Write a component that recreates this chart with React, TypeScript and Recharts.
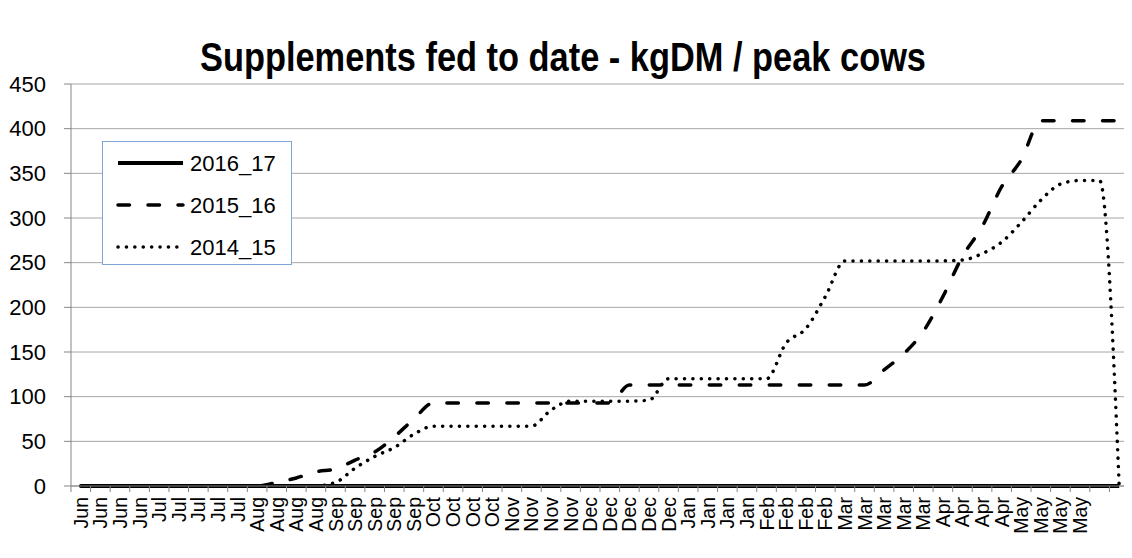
import { CartesianGrid, Legend, Line, LineChart, XAxis, YAxis } from "recharts";

const weekLabels = [
  "Jun", "Jun", "Jun", "Jun",
  "Jul", "Jul", "Jul", "Jul", "Jul",
  "Aug", "Aug", "Aug", "Aug",
  "Sep", "Sep", "Sep", "Sep", "Sep",
  "Oct", "Oct", "Oct", "Oct",
  "Nov", "Nov", "Nov", "Nov",
  "Dec", "Dec", "Dec", "Dec", "Dec",
  "Jan", "Jan", "Jan", "Jan",
  "Feb", "Feb", "Feb", "Feb",
  "Mar", "Mar", "Mar", "Mar", "Mar",
  "Apr", "Apr", "Apr", "Apr",
  "May", "May", "May", "May",
  "", "",
];

const season2016_17 = [
  0, 0, 0, 0, 0, 0, 0, 0, 0, 0, 0, 0, 0, 0, 0, 0, 0, 0,
  0, 0, 0, 0, 0, 0, 0, 0, 0, 0, 0, 0, 0, 0, 0, 0, 0, 0,
  0, 0, 0, 0, 0, 0, 0, 0, 0, 0, 0, 0, 0, 0, 0, 0, 0, 0,
];

const season2015_16 = [
  0, 0, 0, 0, 0, 0, 0, 0, 0, 0,
  4, 9, 16, 19, 29, 38, 55, 75, 93,
  93, 93, 93, 93, 93, 93, 93, 93, 93,
  113, 113, 113, 113, 113, 113, 113, 113, 113, 113, 113, 113, 113,
  130, 148, 173, 212, 257, 290, 335, 365,
  409, 409, 409, 409, 409,
];

const season2014_15 = [
  0, 0, 0, 0, 0, 0, 0, 0, 0, 0, 0, 0, 0,
  4, 20, 33, 43, 58, 67,
  67, 67, 67, 67, 67,
  85, 95, 95, 95, 95, 96, 120,
  120, 120, 120, 120, 120,
  160, 176, 212, 252,
  252, 252, 252, 252, 252, 253,
  260, 273, 295, 320, 338, 342, 342, 0,
];

const yTicks = [0, 50, 100, 150, 200, 250, 300, 350, 400, 450];

const rows = weekLabels.map((label, i) => ({
  label,
  s1617: season2016_17[i],
  s1516: season2015_16[i],
  s1415: season2014_15[i],
}));

const FONT = '"Liberation Sans", Arial, sans-serif';
const W = 1132;
const H = 558;
const PLOT_LEFT = 71;
const PLOT_RIGHT = 1129;
const PLOT_TOP = 84;
const AXIS_Y = 486;
const BW = (PLOT_RIGHT - PLOT_LEFT) / weekLabels.length;
const AXIS_GREY = "#868686";

const DASH = "11.5 18.5";
const DOTS = "0.1 8.3";

function MonthTick(props: any) {
  const { x, payload, index } = props;
  const left = x - BW / 2;
  return (
    <g>
      <line x1={left} x2={left} y1={AXIS_Y} y2={AXIS_Y + 6} stroke={AXIS_GREY} />
      {index === weekLabels.length - 1 && (
        <line x1={x + BW / 2} x2={x + BW / 2} y1={AXIS_Y} y2={AXIS_Y + 6} stroke={AXIS_GREY} />
      )}
      <text
        x={x}
        y={497}
        transform={`rotate(-90 ${x} 497)`}
        textAnchor="end"
        dy="0.36em"
        fontSize={19.5}
        fontFamily={FONT}
        fill="#000"
      >
        {payload.value}
      </text>
    </g>
  );
}

const legendItems = [
  { name: "2016_17", dash: undefined as string | undefined, width: 4 },
  { name: "2015_16", dash: DASH, width: 3.5 },
  { name: "2014_15", dash: DOTS, width: 3.5 },
];

function SeasonLegend() {
  return (
    <div
      style={{
        position: "relative",
        width: 188,
        height: 122,
        border: "1px solid #7ea6d6",
        background: "#fff",
      }}
    >
      <svg width={188} height={122} style={{ position: "absolute", left: 0, top: 0 }}>
        {legendItems.map((item, i) => {
          const cy = 21 + i * 42;
          return (
            <g key={item.name}>
              <line
                x1={15}
                x2={80}
                y1={cy}
                y2={cy}
                stroke="#000"
                strokeWidth={item.width}
                strokeDasharray={item.dash}
                strokeLinecap={item.dash ? "round" : "butt"}
              />
              <text x={87} y={cy} dy="0.36em" fontSize={22} fontFamily={FONT} fill="#000">
                {item.name}
              </text>
            </g>
          );
        })}
      </svg>
    </div>
  );
}

export default function App() {
  return (
    <div style={{ position: "relative", width: W, height: H, margin: -8, background: "#fff", overflow: "hidden" }}>
      <svg width={W} height={H} style={{ position: "absolute", left: 0, top: 0 }}>
        <line x1={5.5} x2={5.5} y1={4} y2={H} stroke="#a9a9a9" strokeWidth={1.5} />
        <line x1={5} x2={W} y1={4.5} y2={4.5} stroke="#a9a9a9" strokeWidth={1.5} />
        <text
          x={563}
          y={71}
          textAnchor="middle"
          fontSize={40}
          fontWeight="bold"
          fontFamily={FONT}
          textLength={726}
          lengthAdjust="spacingAndGlyphs"
          fill="#000"
        >
          Supplements fed to date - kgDM / peak cows
        </text>
      </svg>
      <div style={{ position: "absolute", left: 0, top: 0 }}>
        <LineChart
          width={W}
          height={H}
          data={rows}
          margin={{ top: PLOT_TOP, right: W - PLOT_RIGHT, bottom: 0, left: 0 }}
        >
          <CartesianGrid vertical={false} stroke="#a6a6a6" />
          <XAxis
            dataKey="label"
            interval={0}
            height={H - AXIS_Y}
            padding={{ left: BW / 2, right: BW / 2 }}
            tickLine={false}
            axisLine={{ stroke: AXIS_GREY }}
            tick={<MonthTick />}
          />
          <YAxis
            width={PLOT_LEFT}
            domain={[0, 450]}
            ticks={yTicks}
            interval={0}
            tickSize={7}
            tickMargin={18}
            axisLine={{ stroke: AXIS_GREY }}
            tickLine={{ stroke: AXIS_GREY }}
            tick={{ fill: "#000", fontSize: 22, fontFamily: FONT }}
          />
          <Legend
            layout="horizontal"
            verticalAlign="middle"
            align="center"
            wrapperStyle={{ left: 102, top: 141, width: 190, height: 124 }}
            content={<SeasonLegend />}
          />
          <Line
            type="monotone"
            dataKey="s1415"
            name="2014_15"
            stroke="#000"
            strokeWidth={3.5}
            strokeDasharray={DOTS}
            strokeLinecap="round"
            dot={false}
            activeDot={false}
            isAnimationActive={false}
          />
          <Line
            type="monotone"
            dataKey="s1516"
            name="2015_16"
            stroke="#000"
            strokeWidth={3.5}
            strokeDasharray={DASH}
            strokeLinecap="round"
            dot={false}
            activeDot={false}
            isAnimationActive={false}
          />
          <Line
            type="monotone"
            dataKey="s1617"
            name="2016_17"
            stroke="#000"
            strokeWidth={4}
            dot={false}
            activeDot={false}
            isAnimationActive={false}
          />
        </LineChart>
      </div>
    </div>
  );
}
